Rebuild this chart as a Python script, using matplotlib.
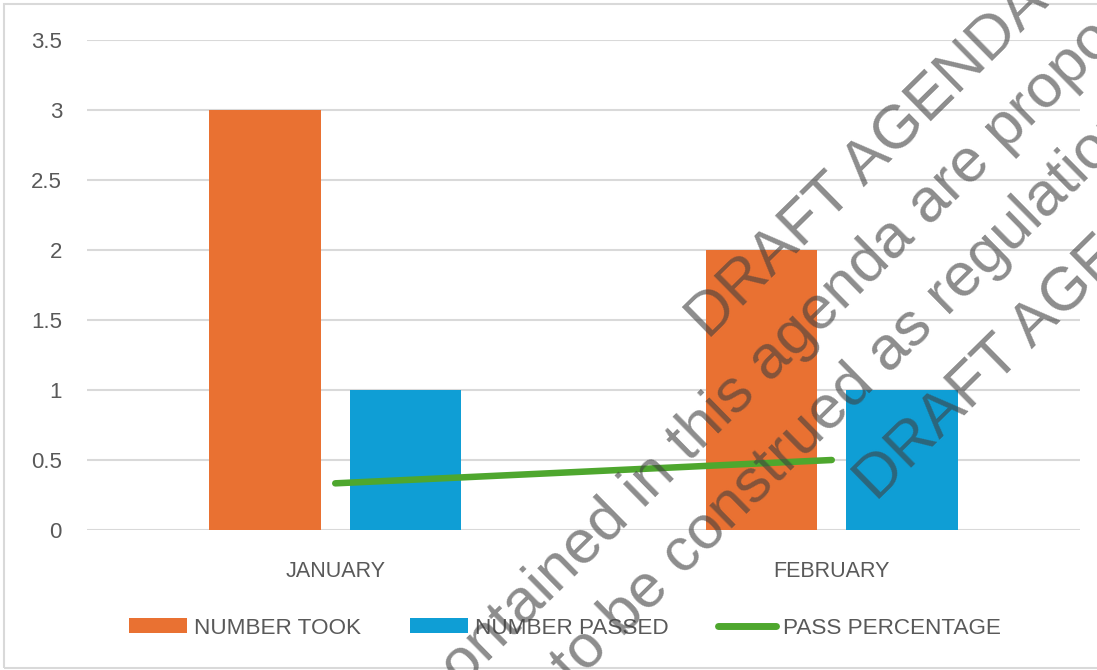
import numpy as np
import matplotlib
matplotlib.use("Agg")
import matplotlib.pyplot as plt
from matplotlib.patches import Patch, Rectangle
from matplotlib.lines import Line2D

months = ["JANUARY", "FEBRUARY"]
number_took = [3, 2]
number_passed = [1, 1]
pass_pct = [1 / 3, 0.5]

ORANGE = "#E97132"
BLUE = "#0F9ED5"
GREEN = "#4EA72E"
GREY_TXT = "#595959"
GRID = "#D9D9D9"

plt.rcParams["font.family"] = ["Liberation Sans", "DejaVu Sans"]

W, H = 1097, 670
fig = plt.figure(figsize=(W / 100, H / 100), dpi=100)

def fx(px):
    return px / W

def fy(py):
    return 1 - py / H

ax = fig.add_axes([fx(87), fy(530), fx(1080) - fx(87), fy(40) - fy(530)])

x = np.arange(len(months))
bw = 0.224
off = 0.1415
ax.bar(x - off, number_took, bw, color=ORANGE, zorder=2)
ax.bar(x + off, number_passed, bw, color=BLUE, zorder=2)
ax.plot(x, pass_pct, color=GREEN, lw=4.7, solid_capstyle="round", zorder=3)

ax.set_xlim(-0.5, 1.5)
ax.set_ylim(0, 3.5)
ax.set_yticks(np.arange(0, 3.51, 0.5))
ax.set_yticklabels(["0", "0.5", "1", "1.5", "2", "2.5", "3", "3.5"])
ax.set_xticks(x)
ax.set_xticklabels(months)
ax.yaxis.grid(True, color=GRID, lw=1.5, zorder=0)
ax.set_axisbelow(True)
for s in ax.spines.values():
    s.set_visible(False)
ax.tick_params(axis="y", length=0, pad=18, labelsize=16, labelcolor=GREY_TXT)
ax.tick_params(axis="x", length=0, pad=22, labelsize=15.5, labelcolor=GREY_TXT)

handles = [
    Patch(facecolor=ORANGE, edgecolor="none"),
    Patch(facecolor=BLUE, edgecolor="none"),
    Line2D([0], [0], color=GREEN, lw=5, solid_capstyle="round"),
]
labels = ["NUMBER TOOK", "NUMBER PASSED", "PASS PERCENTAGE"]
leg = fig.legend(handles, labels, loc="center", bbox_to_anchor=(fx(565), fy(628)),
                 ncol=3, frameon=False, fontsize=16.2, handlelength=2.58,
                 handleheight=0.62, handletextpad=0.31, columnspacing=2.18)
for t in leg.get_texts():
    t.set_color(GREY_TXT)

# outer chart border
fig.add_artist(Rectangle((fx(4), fy(668)), 1.2, fy(4) - fy(668), transform=fig.transFigure,
                         facecolor="none", edgecolor=GRID, lw=1.5))

# watermark
wm = dict(rotation=44.5, rotation_mode="anchor", va="baseline", fontsize=44.5,
          color="#404040", alpha=0.6, zorder=10)
fig.text(fx(709), fy(341), "DRAFT AGENDA", ha="left", **wm)
fig.text(fx(689), fy(463), "Items contained in ", ha="right", **wm)
fig.text(fx(689), fy(463), "this agenda are proposed", ha="left", **wm)
fig.text(fx(683), fy(577), "and are not to be ", ha="right", **wm)
fig.text(fx(683), fy(577), "construed as regulations", ha="left", **wm)
fig.text(fx(877), fy(503), "DRAFT AGENDA", ha="left", **wm)

fig.savefig("out.png", dpi=100)
